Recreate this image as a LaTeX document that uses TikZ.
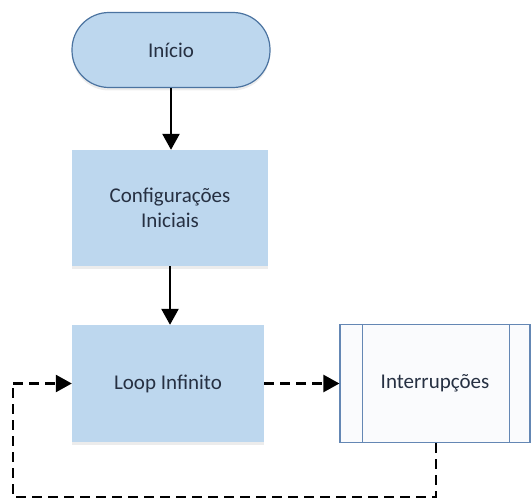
\documentclass[tikz,border=0pt]{standalone}
\usepackage{fontspec}
\setmainfont{Carlito}
\usetikzlibrary{arrows.meta,shadows}
\definecolor{boxblue}{RGB}{189,215,238}
\definecolor{edgeblue}{RGB}{75,115,160}
\definecolor{predge}{RGB}{100,135,180}
\definecolor{txt}{RGB}{38,48,66}
\definecolor{prfill}{RGB}{250,251,253}
\begin{document}
\begin{tikzpicture}[x=1pt,y=1pt,
  every node/.style={font=\fontsize{21}{25}\selectfont, text=txt, align=center},
  procbox/.style={rectangle, fill=boxblue, draw=none, minimum width=194pt, minimum height=116pt,
    drop shadow={shadow xshift=0pt, shadow yshift=-3pt, opacity=0.15}},
  termbox/.style={rectangle, rounded corners=37pt, fill=boxblue, draw=edgeblue, line width=1.2pt,
    minimum width=198pt, minimum height=75pt,
    drop shadow={shadow xshift=0pt, shadow yshift=-3pt, opacity=0.15}},
  predbox/.style={rectangle, fill=prfill, draw=predge, line width=1.2pt, minimum width=190pt, minimum height=118pt},
  solidarrow/.style={-{Triangle[width=17pt,length=16pt]}, line width=2.6pt, black},
  dasharrow/.style={-{Triangle[width=17pt,length=16pt]}, line width=2.6pt, black, dash pattern=on 10pt off 6pt},
  dashline/.style={line width=2.6pt, black, dash pattern=on 10pt off 6pt}
]
\useasboundingbox (0,0) rectangle (531,499);
\node[termbox] (start) at (171,449) {Início};
\node[procbox, minimum width=196pt] (cfg) at (170,291) {Configurações\\Iniciais};
\node[procbox, minimum width=192pt, minimum height=117pt] (loop) at (168,115.5) {Loop Infinito};
\node[predbox] (intr) at (435,115.5) {Interrupções};
\draw[predge, line width=1.2pt] ([xshift=23pt]intr.north west) -- ([xshift=23pt]intr.south west);
\draw[predge, line width=1.2pt] ([xshift=-21pt]intr.north east) -- ([xshift=-21pt]intr.south east);
\draw[solidarrow] (start.south) -- (start.south |- cfg.north);
\draw[solidarrow] (cfg.south) -- (cfg.south |- loop.north);
\draw[dasharrow] (loop.east) -- (intr.west);
\coordinate (c1) at (436,2);
\coordinate (c2) at (13,2);
\coordinate (c3) at (13,115.5);
\draw[dashline] (intr.south -| c1) -- (c1) -- (c2) -- (c3);
\draw[dasharrow] (c3) -- (loop.west);
\end{tikzpicture}
\end{document}
